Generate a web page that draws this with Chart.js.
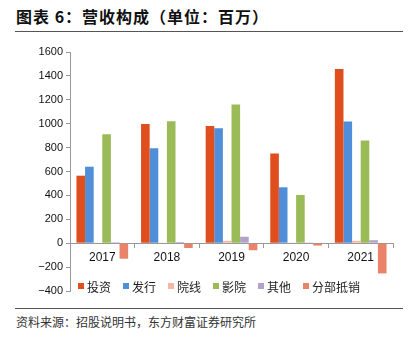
<!DOCTYPE html>
<html>
<head>
<meta charset="utf-8">
<script src="https://cdn.jsdelivr.net/npm/chart.js@4/dist/chart.umd.min.js"></script>
<style>
    html, body { margin: 0; padding: 0; background: #fff; }
    #page { position: relative; width: 417px; height: 340px; overflow: hidden; font-family: "Noto Sans CJK SC", sans-serif; }
    #title { position: absolute; left: 16px; top: 4px; font-size: 16px; font-weight: bold; color: #111; white-space: nowrap; letter-spacing: 1px; }
    .rule { position: absolute; left: 15px; width: 388px; height: 0; border-top: 1.5px solid #555; }
    #source { position: absolute; left: 16px; top: 313px; font-size: 12px; color: #333; white-space: nowrap; }
    #wrap { position: absolute; left: 0; top: 41px; width: 417px; height: 265px; }
</style>
</head>
<body>
<div id="page">
    <div id="title">图表 6：营收构成（单位：百万）</div>
    <div class="rule" style="top:31px"></div>
    <div id="wrap"><canvas id="revChart"></canvas></div>
    <div class="rule" style="top:308px"></div>
    <div id="source">资料来源：招股说明书，东方财富证券研究所</div>
</div>
<script>
// ── Data (百万) ──────────────────────────────────────────────
var years      = ['2017', '2018', '2019', '2020', '2021'];
var investment = [565, 998, 980, 751, 1457];
var issuance   = [640, 795, 961, 468, 1018];
var circuit    = [5, 3, 20, 3, 20];
var cinema     = [912, 1020, 1160, 404, 860];
var others     = [8, 10, 54, 2, 25];
var offset     = [-130, -40, -59, -20, -253];
var yTicks     = [-400, -200, 0, 200, 400, 600, 800, 1000, 1200, 1400, 1600];

var seriesNames  = ['投资', '发行', '院线', '影院', '其他', '分部抵销'];
var seriesData   = [investment, issuance, circuit, cinema, others, offset];
var seriesColors = ['#E04E1E', '#4F8ED8', '#F5B7A4', '#9BBB59', '#B2A1C9', '#E9846B'];

(function () {
    'use strict';

    var datasets = seriesNames.map(function (name, i) {
        return {
            label: name,
            data: seriesData[i],
            backgroundColor: seriesColors[i],
            borderWidth: 0,
            categoryPercentage: 0.8,
            barPercentage: 1.0
        };
    });

    // legend drawn inside the plot area, near the bottom
    var innerLegend = {
        id: 'innerLegend',
        afterDraw: function (chart) {
            var ctx = chart.ctx;
            var x = 78, y = 245;
            ctx.save();
            ctx.font = '12px "Noto Sans CJK SC"';
            ctx.textBaseline = 'middle';
            seriesNames.forEach(function (name, i) {
                ctx.fillStyle = seriesColors[i];
                ctx.fillRect(x, y - 3, 6, 6);
                ctx.fillStyle = '#222';
                ctx.fillText(name, x + 9, y + 1);
                x += 9 + ctx.measureText(name).width + 12;
            });
            ctx.restore();
        }
    };

    new Chart(document.getElementById('revChart'), {
        type: 'bar',
        data: { labels: years, datasets: datasets },
        plugins: [innerLegend],
        options: {
            responsive: true,
            maintainAspectRatio: false,
            animation: false,
            layout: { padding: { top: 11, right: 24, bottom: 15, left: 0 } },
            plugins: { legend: { display: false }, tooltip: { enabled: false } },
            scales: {
                x: {
                    position: { y: 0 },
                    grid: { drawOnChartArea: false, offset: true, tickLength: 4, color: '#999' },
                    border: { color: '#999', width: 1 },
                    ticks: { color: '#111', padding: 3, font: { family: 'Liberation Sans, Arial', size: 12 } }
                },
                y: {
                    min: yTicks[0],
                    max: yTicks[yTicks.length - 1],
                    afterFit: function (scale) { scale.width = 70; },
                    afterBuildTicks: function (scale) {
                        scale.ticks = yTicks.map(function (v) { return { value: v }; });
                    },
                    grid: { drawOnChartArea: false, tickLength: 4, color: '#999' },
                    border: { color: '#999', width: 1 },
                    ticks: {
                        color: '#111',
                        padding: 3,
                        font: { family: 'Liberation Sans, Arial', size: 11 },
                        callback: function (v) { return String(v).replace('-', '\u2212'); }
                    }
                }
            }
        }
    });
})();
</script>
</body>
</html>
